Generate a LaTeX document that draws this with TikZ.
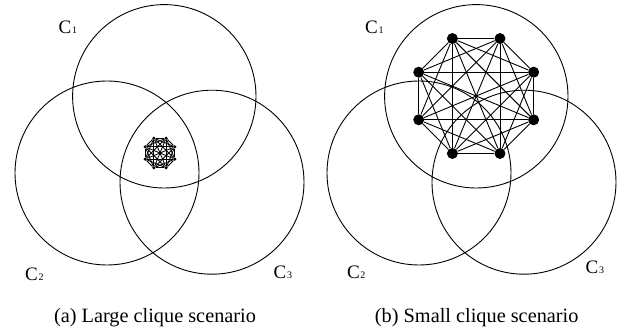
\documentclass[tikz,border=0pt]{standalone}
\usepackage{fontspec}
\setmainfont{Liberation Serif}
\begin{document}
\begin{tikzpicture}[x=1pt,y=-1pt,
  ring/.style={draw=black,line width=0.9pt},
  bigdot/.style={circle,fill=black,inner sep=0pt,minimum size=11pt},
  tinydot/.style={circle,fill=black,inner sep=0pt,minimum size=3.5pt},
  bigedge/.style={line width=0.9pt},
  tinyedge/.style={line width=0.85pt},
  clab/.style={anchor=base west,inner sep=0pt},
  captext/.style={anchor=base,inner sep=0pt,font=\fontsize{20.3}{20.3}\selectfont}]
\newcommand{\cname}[1]{{\fontsize{19}{19}\selectfont C}\kern0.8pt{\fontsize{10}{10}\selectfont #1}}
\useasboundingbox (0,0) rectangle (625,334);
% left panel
\draw[ring] (164.3,96.3) circle[radius=91.7];
\draw[ring] (107,173) circle[radius=92];
\draw[ring] (212,182.2) circle[radius=92];
\foreach \i in {1,...,8}
  \path (160,153) ++(22.5+45*\i:16) node[tinydot] (a\i) {};
\foreach \i in {1,...,7}{
  \pgfmathtruncatemacro\k{\i+1}
  \foreach \j in {\k,...,8} \draw[tinyedge] (a\i) -- (a\j);
}
\node[clab] (l1) at (58.5,34) {\cname{1}};
\node[clab] (l2) at (25,280.3) {\cname{2}};
\node[clab] (l3) at (273.5,279) {\cname{3}};
\node[captext] (capa) at (155,323) {(a) Large clique scenario};
% right panel
\draw[ring] (476.3,96.3) circle[radius=91.7];
\draw[ring] (419,173) circle[radius=92];
\draw[ring] (524,182.2) circle[radius=92];
\foreach \i in {1,...,8}
  \path (476.2,96) ++(22.5+45*\i:62.2) node[bigdot] (b\i) {};
\foreach \i in {1,...,7}{
  \pgfmathtruncatemacro\k{\i+1}
  \foreach \j in {\k,...,8} \draw[bigedge] (b\i) -- (b\j);
}
\node[clab] (r1) at (365,34) {\cname{1}};
\node[clab] (r2) at (346.8,279) {\cname{2}};
\node[clab] (r3) at (585.5,274) {\cname{3}};
\node[captext] (capb) at (476.7,323) {(b) Small clique scenario};
\end{tikzpicture}
\end{document}
